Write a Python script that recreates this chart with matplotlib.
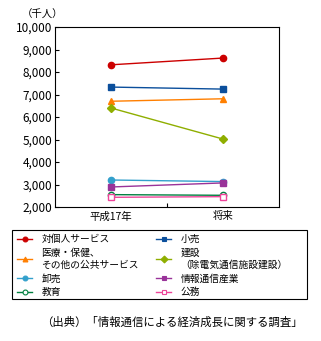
import matplotlib
matplotlib.use("Agg")
import matplotlib.pyplot as plt
from matplotlib.lines import Line2D
from matplotlib.patches import Rectangle

plt.rcParams['font.family'] = ['Noto Sans CJK JP', 'DejaVu Sans']

categories = ["平成17年", "将来"]
series_names = [
    "対個人サービス", "小売", "医療・保健、\nその他の公共サービス", "建設\n（除電気通信施設建設）",
    "卸売", "情報通信産業", "教育", "公務",
]
v_personal = [8320, 8620]
v_retail = [7330, 7240]
v_medical = [6700, 6810]
v_construct = [6400, 5020]
v_wholesale = [3200, 3130]
v_ict = [2890, 3070]
v_edu = [2550, 2520]
v_public = [2430, 2460]
yticks = [2000, 3000, 4000, 5000, 6000, 7000, 8000, 9000, 10000]
ytick_labels = ["2,000", "3,000", "4,000", "5,000", "6,000", "7,000", "8,000", "9,000", "10,000"]

values = [v_personal, v_retail, v_medical, v_construct, v_wholesale, v_ict, v_edu, v_public]
colors = ["#cc0000", "#0b4f9c", "#ff7f00", "#8fae00", "#33a0cc", "#993399", "#008040", "#ee4499"]
markers = ["o", "s", "^", "D", "o", "s", "o", "s"]
filled = [True, True, True, True, True, True, False, False]

fig = plt.figure(figsize=(3.21, 3.41), dpi=100)
ax = fig.add_axes([55/321, 1-207/341, 224/321, 180/341])

x = list(range(len(categories)))
handles = []
for vals, name, c, m, f in zip(values, series_names, colors, markers, filled):
    ax.plot(x, vals, color=c, lw=1.0, marker=m, markersize=4.5,
            markerfacecolor=c if f else "white", markeredgecolor=c, markeredgewidth=1.0)
    handles.append(Line2D([0], [0], color=c, lw=1.0, marker=m, markersize=3.5,
                          markerfacecolor=c if f else "white", markeredgecolor=c, markeredgewidth=0.8))

ax.set_xlim(-0.5, 1.5)
ax.set_ylim(2000, 10000)
ax.set_xticks(x)
ax.set_xticklabels(categories, fontsize=7.5)
ax.set_xticks([0.5], minor=True)
ax.tick_params(axis='x', which='major', length=0, pad=3)
ax.tick_params(axis='x', which='minor', direction='in', length=3, width=0.8)
ax.set_yticks(yticks)
ax.set_yticklabels(ytick_labels, fontsize=8.5)
ax.tick_params(axis='y', direction='in', length=3, width=0.8, pad=2)
for s in ax.spines.values():
    s.set_linewidth(0.8)

fig.text(22/321, 1-15/341, "（千人）", fontsize=7.5, va='center', ha='left')

# legend: left column then right column
order = [0, 2, 4, 6, 1, 3, 5, 7]
leg = fig.legend([handles[i] for i in order], [series_names[i] for i in order],
                 loc='upper left', bbox_to_anchor=(17/321, 1-234/341),
                 ncol=2, fontsize=7, frameon=False,
                 handlelength=1.55, handletextpad=0.95,
                 borderpad=0, labelspacing=0.4, columnspacing=1.8, borderaxespad=0)
fig.patches.append(Rectangle((12/321, 1-299/341), 295/321, 69/341, transform=fig.transFigure,
                             fill=False, edgecolor='black', linewidth=0.8))

fig.text(303/321, 1-322/341, "（出典）「情報通信による経済成長に関する調査」", fontsize=8.2,
         ha='right', va='center')

fig.savefig("out.png", dpi=100)
